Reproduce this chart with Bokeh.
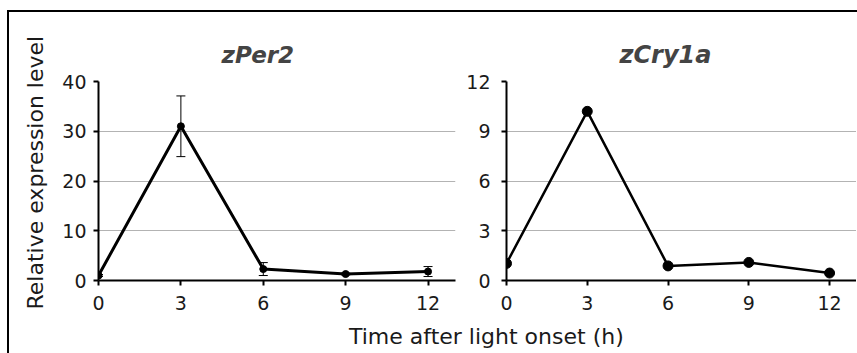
from bokeh.plotting import figure
from bokeh.models import ColumnDataSource, Whisker, TeeHead, FixedTicker, Title, Div, Range1d
from bokeh.layouts import row, column
from bokeh.embed import file_html
from bokeh.resources import INLINE

time_h = [0, 3, 6, 9, 12]
per2 = [1.0, 31.0, 2.3, 1.3, 1.8]
per2_err = [0.2, 6.1, 1.3, 0.2, 1.0]
cry1a = [1.03, 10.2, 0.88, 1.09, 0.45]
x_ticks = [0, 3, 6, 9, 12]
per2_yticks = [0, 10, 20, 30, 40]
cry1a_yticks = [0, 3, 6, 9, 12]
titles = ["zPer2", "zCry1a"]

FONT = "DejaVu Sans"


def style(p, yticks, tick_standoff):
    p.outline_line_color = None
    p.xgrid.grid_line_color = None
    p.ygrid.grid_line_color = "#b3b3b3"
    p.ygrid.grid_line_width = 1
    p.xaxis.ticker = FixedTicker(ticks=x_ticks)
    p.yaxis.ticker = FixedTicker(ticks=yticks)
    for ax in (p.xaxis[0], p.yaxis[0]):
        ax.axis_line_color = "black"
        ax.axis_line_width = 2
        ax.major_tick_line_color = "black"
        ax.major_tick_line_width = 2
        ax.major_tick_in = 0
        ax.major_tick_out = 5
        ax.minor_tick_line_color = None
        ax.major_label_text_font = FONT
        ax.major_label_text_font_size = "19px"
        ax.major_label_text_color = "#1a1a1a"
    p.xaxis.major_label_standoff = 10
    p.yaxis.major_label_standoff = tick_standoff


p1 = figure(width=451, height=306, output_backend="svg", toolbar_location=None,
            x_range=Range1d(0, 13), y_range=Range1d(0, 40),
            min_border_left=86, min_border_right=5, min_border_top=69, min_border_bottom=38)
style(p1, per2_yticks, 7)
p1.add_layout(Title(text="Relative expression level", text_font=FONT, text_font_size="22px",
                    text_font_style="normal", text_color="#1a1a1a", align="left",
                    offset=-29, standoff=23), "left")

src1 = ColumnDataSource(dict(x=time_h, y=per2,
                             upper=[v + e for v, e in zip(per2, per2_err)],
                             lower=[v - e for v, e in zip(per2, per2_err)]))
p1.add_layout(Whisker(source=src1, base="x", upper="upper", lower="lower",
                      line_color="black", line_width=1,
                      upper_head=TeeHead(size=9, line_color="black", line_width=1),
                      lower_head=TeeHead(size=9, line_color="black", line_width=1)))
p1.line("x", "y", source=src1, line_color="black", line_width=3)
p1.scatter("x", "y", source=src1, size=7, color="black")
p1.add_layout(Title(text=titles[0], text_font=FONT, text_font_size="23px",
                    text_font_style="bold italic", align="left", offset=123,
                    vertical_align="top", standoff=23), "above")

p2 = figure(width=396, height=306, output_backend="svg", toolbar_location=None,
            x_range=Range1d(0, 13), y_range=Range1d(0, 12),
            min_border_left=46, min_border_right=0, min_border_top=69, min_border_bottom=38)
style(p2, cry1a_yticks, 11)
src2 = ColumnDataSource(dict(x=time_h, y=cry1a))
p2.line("x", "y", source=src2, line_color="black", line_width=2.5)
p2.scatter("x", "y", source=src2, size=10, color="black")
p2.add_layout(Title(text=titles[1], text_font=FONT, text_font_size="24px",
                    text_font_style="bold italic", align="left", offset=113,
                    vertical_align="top", standoff=22), "above")

xlabel = Div(text='<div style="position:absolute; left:335px; top:-2px; white-space:nowrap; '
                  'font-family:\'DejaVu Sans\'; font-size:22px; color:#1a1a1a;">'
                  'Time after light onset (h)</div>',
             width=845, height=33)

layout = column(row(p1, p2), xlabel,
                styles={"border-top": "2px solid black", "border-left": "2px solid black",
                        "margin-left": "7px", "margin-top": "10px"})

open("out.html", "w").write(file_html(layout, INLINE))
